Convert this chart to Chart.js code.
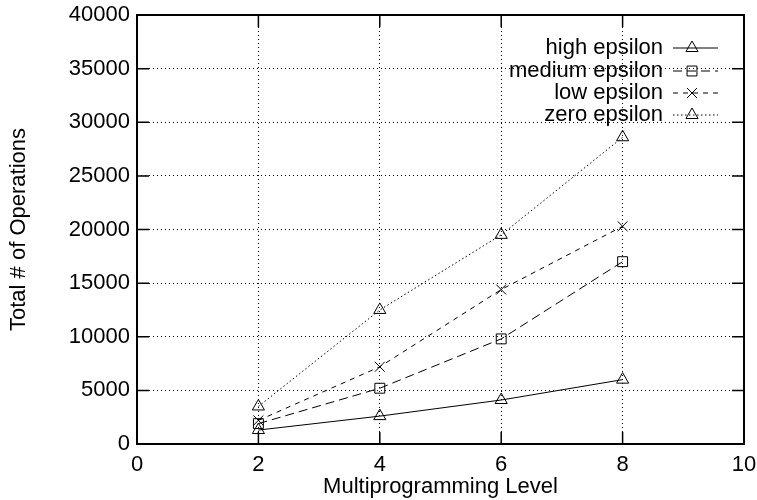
<!DOCTYPE html>
<html>
<head>
<meta charset="utf-8">
<script src="https://cdn.jsdelivr.net/npm/chart.js"></script>
<style>
  html, body { margin: 0; padding: 0; background: #fff; }
  #wrap { width: 757px; height: 500px; }
</style>
</head>
<body>
<div id="wrap"><canvas id="opsChart" width="757" height="500"></canvas></div>
<script>
// --- data ---
const levels = [2, 4, 6, 8];
const highEps = [1300, 2600, 4100, 6000];
const mediumEps = [1900, 5200, 9800, 17000];
const lowEps = [2200, 7200, 14400, 20300];
const zeroEps = [3500, 12500, 19500, 28600];
const seriesNames = ['high epsilon', 'medium epsilon', 'low epsilon', 'zero epsilon'];
const xTicks = [0, 2, 4, 6, 8, 10];
const yTicks = [0, 5000, 10000, 15000, 20000, 25000, 30000, 35000, 40000];

const FONT = 'Liberation Sans, Arial, Helvetica, sans-serif';

function pts(vals) {
  return vals.map((v, i) => ({ x: levels[i], y: v }));
}

function mkSet(name, vals, dash, marker) {
  return {
    label: name,
    data: pts(vals),
    borderColor: '#000',
    borderWidth: 1,
    borderDash: dash,
    backgroundColor: 'rgba(0,0,0,0)',
    pointStyle: marker,
    pointRadius: 7,
    pointBorderWidth: 1,
    pointBorderColor: '#000',
    pointBackgroundColor: 'rgba(0,0,0,0)',
    tension: 0
  };
}

// gnuplot style frame with inward ticks, plus key in the top right
const framePlugin = {
  id: 'frame',
  afterDatasetsDraw(chart) {
    const c = chart.ctx;
    const a = chart.chartArea;
    const xs = chart.scales.x, ys = chart.scales.y;
    const t = 12;
    c.save();
    c.strokeStyle = '#000';
    c.lineWidth = 1.5;
    c.setLineDash([]);
    c.beginPath();
    xTicks.forEach(v => {
      const px = xs.getPixelForValue(v);
      c.moveTo(px, a.bottom); c.lineTo(px, a.bottom - t);
      c.moveTo(px, a.top); c.lineTo(px, a.top + t);
    });
    yTicks.forEach(v => {
      const py = ys.getPixelForValue(v);
      c.moveTo(a.left, py); c.lineTo(a.left + t, py);
      c.moveTo(a.right, py); c.lineTo(a.right - t, py);
    });
    c.stroke();
    c.lineWidth = 2;
    c.strokeRect(a.left, a.top, a.right - a.left, a.bottom - a.top);

    // key
    const textRight = 663, lineL = 673, lineR = 718, markX = 692;
    const rowY = [48, 71, 93, 115];
    c.font = '22px ' + FONT;
    c.textAlign = 'right';
    c.textBaseline = 'middle';
    chart.data.datasets.forEach((ds, i) => {
      const y = rowY[i];
      c.fillStyle = '#000';
      c.fillText(ds.label, textRight, y);
      c.beginPath();
      c.setLineDash(ds.borderDash);
      c.lineWidth = 1;
      c.moveTo(lineL, y); c.lineTo(lineR, y);
      c.stroke();
      c.setLineDash([]);
      c.fillStyle = 'rgba(0,0,0,0)';
      Chart.helpers.drawPoint(c, {
        pointStyle: ds.pointStyle, radius: 7, rotation: 0, borderWidth: 1
      }, markX, y);
    });
    c.restore();
  }
};

const ctx = document.getElementById('opsChart').getContext('2d');
const chart = new Chart(ctx, {
  type: 'line',
  data: {
    datasets: [
      mkSet(seriesNames[0], highEps, [], 'triangle'),
      mkSet(seriesNames[1], mediumEps, [9, 5], 'rect'),
      mkSet(seriesNames[2], lowEps, [5, 5], 'crossRot'),
      mkSet(seriesNames[3], zeroEps, [1.5, 2.5], 'triangle')
    ]
  },
  options: {
    responsive: false,
    animation: false,
    layout: { padding: { left: 0, right: 13, top: 15, bottom: 0 } },
    plugins: {
      legend: { display: false },
      tooltip: { enabled: false }
    },
    scales: {
      x: {
        type: 'linear',
        min: 0, max: 10,
        afterFit: s => { s.height = 56; s.paddingLeft = 0; s.paddingRight = 0; },
        afterBuildTicks: s => { s.ticks = xTicks.map(v => ({ value: v })); },
        grid: { color: '#000', lineWidth: 1, drawTicks: false },
        border: { display: false, dash: [1, 3] },
        ticks: { color: '#000', font: { family: FONT, size: 22 }, padding: 8, maxRotation: 0,
                 callback: v => String(v) },
        title: { display: true, text: 'Multiprogramming Level', color: '#000',
                 font: { family: FONT, size: 22 }, padding: { top: 0, bottom: 0 } }
      },
      y: {
        type: 'linear',
        min: 0, max: 40000,
        afterFit: s => { s.width = 137; s.paddingTop = 0; s.paddingBottom = 0; },
        afterBuildTicks: s => { s.ticks = yTicks.map(v => ({ value: v })); },
        grid: { color: '#000', lineWidth: 1, drawTicks: false },
        border: { display: false, dash: [1, 3] },
        ticks: { color: '#000', font: { family: FONT, size: 22 }, padding: 7,
                 callback: v => String(v) },
        title: { display: true, text: 'Total # of Operations', color: '#000',
                 font: { family: FONT, size: 22 }, padding: { top: 6, bottom: 0 } }
      }
    }
  },
  plugins: [framePlugin]
});
</script>
</body>
</html>
